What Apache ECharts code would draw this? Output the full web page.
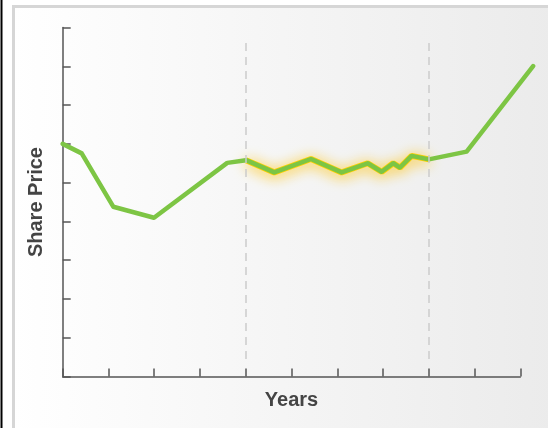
<!DOCTYPE html>
<html>
<head>
<meta charset="utf-8">
<style>
  html, body { margin: 0; padding: 0; background: #ffffff; }
  #chart { width: 548px; height: 428px; }
</style>
<script src="https://cdn.jsdelivr.net/npm/echarts@6/dist/echarts.min.js"></script>
</head>
<body>
<div id="chart"></div>
<script>
// Share price path over time (x in years, y in price units)
const years = [0, 0.415, 1.105, 1.995, 3.596, 4.005, 4.623, 5.425, 6.096, 6.664, 6.97, 7.223, 7.37, 7.625, 8.003, 8.827, 10.28];
const prices = [6.0, 5.755, 4.38, 4.095, 5.51, 5.58, 5.265, 5.61, 5.265, 5.5, 5.28, 5.5, 5.39, 5.69, 5.6, 5.8, 8.005];

// Highlighted period bounded by the two dashed markers
const markerYears = [4, 8];
const highlightStart = 5;   // index of first point in highlighted stretch
const highlightEnd = 14;    // index of last point in highlighted stretch

const pricePoints = years.map((x, i) => [x, prices[i]]);
const highlightPoints = pricePoints.slice(highlightStart, highlightEnd + 1);

// Visible axis spans 10 years; the price line runs a little past its end,
// so the line lives on a hidden, wider axis with the same scale.
const axisYears = 10;
const lastYear = years[years.length - 1];
const gridLeft = 62.7, gridRight = 27.7, gridTop = 27.5, gridBottom = 51.4;
const pxPerYear = (548 - gridLeft - gridRight) / axisYears;
const wideRight = 548 - gridLeft - pxPerYear * lastYear;

const axisColor = '#555555';
const labelFont = { fontFamily: 'Liberation Sans, Arial, sans-serif', fontWeight: 'bold', fontSize: 20, color: '#444444' };
const hiddenAxis = { show: false };

const chart = echarts.init(document.getElementById('chart'), null, { renderer: 'canvas' });

chart.setOption({
  animation: false,
  backgroundColor: '#ffffff',
  graphic: [
    { type: 'line', z: -10, shape: { x1: 1.5, y1: 0, x2: 1.5, y2: 428 }, style: { stroke: '#000000', lineWidth: 2 } },
    {
      type: 'rect', z: -10,
      shape: { x: 13.5, y: 6.5, width: 540, height: 430 },
      style: {
        fill: new echarts.graphic.LinearGradient(0, 0, 1, 0, [
          { offset: 0, color: '#ffffff' },
          { offset: 0.35, color: '#f8f8f8' },
          { offset: 1, color: '#ebebeb' }
        ]),
        stroke: '#d6d6d6', lineWidth: 3
      }
    }
  ],
  grid: [
    { left: gridLeft, right: gridRight, top: gridTop, bottom: gridBottom, containLabel: false },
    { left: gridLeft, right: wideRight, top: gridTop, bottom: gridBottom, containLabel: false }
  ],
  xAxis: [
    {
      type: 'value', gridIndex: 0, min: 0, max: axisYears, interval: 1,
      name: 'Years', nameLocation: 'middle', nameGap: 14,
      nameTextStyle: labelFont,
      axisLine: { show: true, lineStyle: { color: axisColor, width: 1.5 } },
      axisTick: { show: true, inside: true, length: 8, lineStyle: { color: axisColor, width: 1.5 } },
      axisLabel: { show: false },
      splitLine: { show: false }
    },
    Object.assign({ type: 'value', gridIndex: 1, min: 0, max: lastYear }, hiddenAxis)
  ],
  yAxis: [
    {
      type: 'value', gridIndex: 0, min: 0, max: 9, interval: 1,
      name: 'Share Price', nameLocation: 'middle', nameGap: 16,
      nameTextStyle: labelFont,
      axisLine: { show: true, lineStyle: { color: axisColor, width: 1.5 } },
      axisTick: { show: true, inside: true, length: 8, lineStyle: { color: axisColor, width: 1.5 } },
      axisLabel: { show: false },
      splitLine: { show: false }
    },
    Object.assign({ type: 'value', gridIndex: 1, min: 0, max: 9 }, hiddenAxis)
  ],
  series: [
    {
      // soft warm glow under the highlighted stretch
      type: 'line', xAxisIndex: 1, yAxisIndex: 1, data: highlightPoints, symbol: 'none', z: 3,
      lineStyle: { color: '#ffd000', width: 6, shadowBlur: 14, shadowColor: '#ffc000', shadowOffsetY: 2 },
      markLine: {
        silent: true, symbol: 'none', label: { show: false },
        lineStyle: { color: '#cccccc', type: [8, 6], width: 1.5 },
        data: markerYears.map(x => [{ coord: [x, 8.6] }, { coord: [x, 0.38] }])
      }
    },
    {
      type: 'line', xAxisIndex: 1, yAxisIndex: 1, data: pricePoints, symbol: 'none', z: 4,
      lineStyle: { color: '#7dc544', width: 4.5, cap: 'round', join: 'round' }
    }
  ]
});
</script>
</body>
</html>
